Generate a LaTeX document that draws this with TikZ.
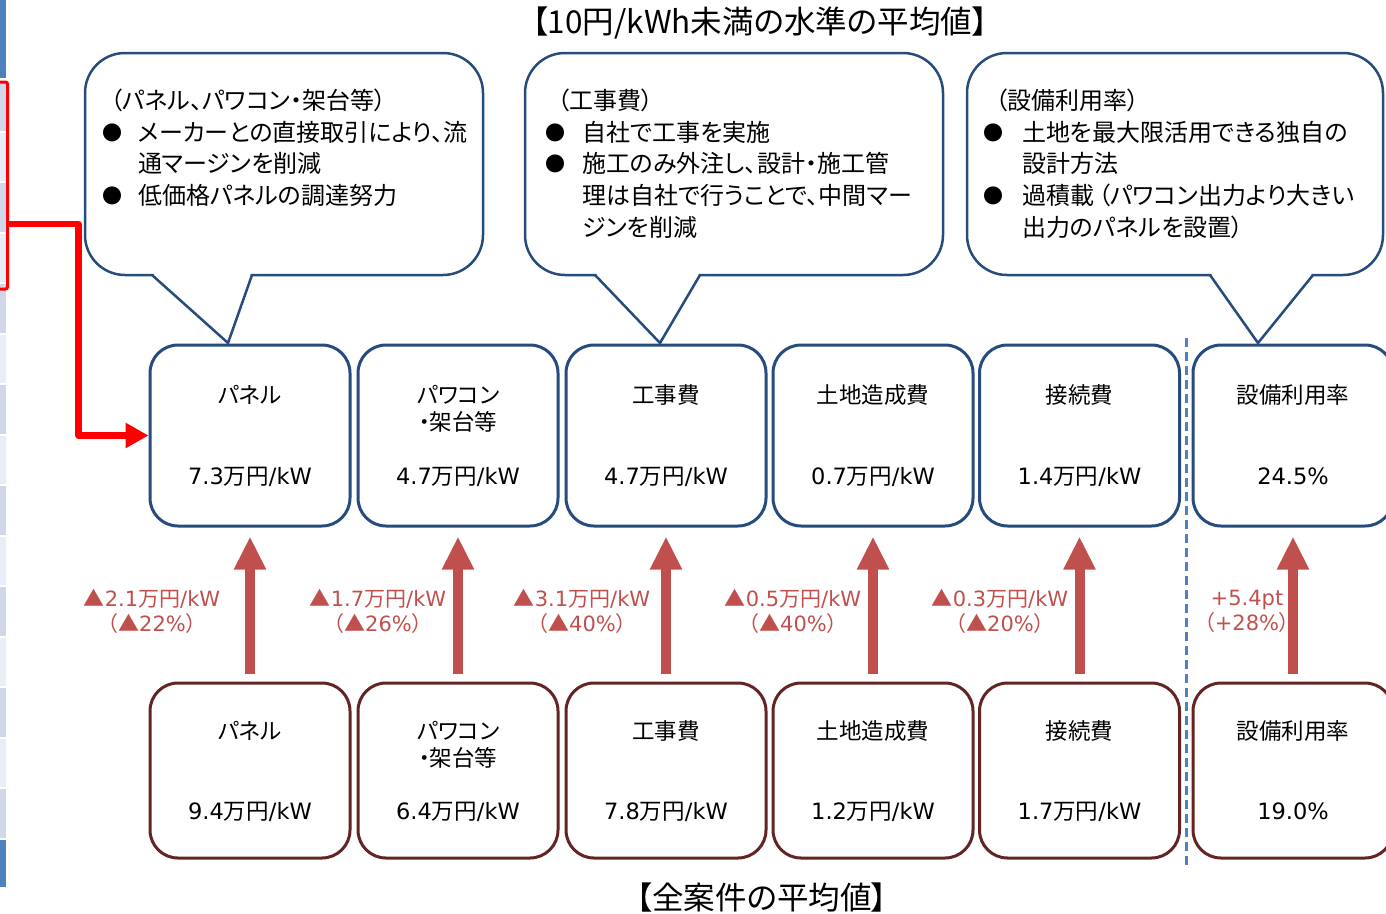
\documentclass[tikz,border=0pt]{standalone}
\usepackage{fontspec}
\setmainfont{Noto Sans CJK JP}[RawFeature=+palt]
\newfontfamily\dv{DejaVu Sans}
\usetikzlibrary{arrows.meta,calc}
\definecolor{bxblue}{HTML}{254C7D}
\definecolor{bxred}{HTML}{632523}
\definecolor{arr}{HTML}{C0504D}
\definecolor{stripdk}{HTML}{4F81BD}
\definecolor{cellA}{HTML}{CFD7E8}
\definecolor{cellB}{HTML}{E9EDF5}
\newcommand\lt[1]{{\dv #1}}
\tikzset{
  topbox/.style={draw=bxblue, line width=3pt, rounded corners=28pt, minimum width=200pt, minimum height=181pt, fill=white, inner sep=0pt},
  botbox/.style={draw=bxred, line width=3pt, rounded corners=28pt, minimum width=200pt, minimum height=175pt, fill=white, inner sep=0pt},
  btxt/.style={font=\fontsize{22.5}{27}\selectfont, inner sep=0pt, anchor=base},
  chg/.style={font=\fontsize{21}{25}\selectfont, text=arr, inner sep=0pt, align=center},
  ctxt/.style={font=\fontsize{24}{32}\selectfont, inner sep=0pt, anchor=base west},
  bul/.style={font=\fontsize{20}{24}\selectfont, inner sep=0pt, anchor=base},
  cbody/.style={draw=bxblue, line width=2.5pt, rounded corners=40pt, fill=white, minimum height=222pt, inner sep=0pt},
  cline/.style={draw=bxblue, line width=2.5pt, line join=miter},
  bigarrow/.style={draw=arr, line width=10pt, -{Triangle[width=30pt,length=33pt]}},
  redarrow/.style={draw=red, line width=6.5pt, line join=round, -{Triangle[width=24pt,length=23pt]}},
  dashline/.style={draw=stripdk, line width=3pt, dash pattern=on 9pt off 5pt},
  ttl/.style={font=\fontsize{31.5}{36}\selectfont, inner sep=0pt, anchor=base}
}
\begin{document}
\begin{tikzpicture}[x=1pt,y=-1pt]
\useasboundingbox (0,0) rectangle (1386,913);
% left strip (cropped table)
\fill[stripdk] (0,0) rectangle (6,78);
\foreach \i in {0,2,...,14} \fill[cellA] (0,{82+50.5*\i}) rectangle (6,{130.5+50.5*\i});
\foreach \i in {1,3,...,13} \fill[cellB] (0,{82+50.5*\i}) rectangle (6,{130.5+50.5*\i});
\fill[stripdk] (0,840) rectangle (6,887);
\node[draw=red, line width=3pt, rounded corners=2pt, minimum width=14pt, minimum height=207pt, inner sep=0pt] (sel) at (0.5,185.5) {};

% titles
\node[ttl] (ttop) at (760,33.5) {【10円/kWh未満の水準の平均値】};
\node[ttl] (tbot) at (762,909.5) {【全案件の平均値】};

% callouts
\node[cbody, minimum width=398pt] (cb1) at (284,164) {};
\node[cbody, minimum width=418pt] (cb2) at (734,164) {};
\node[cbody, minimum width=416pt] (cb3) at (1175,164) {};
\foreach \a/\b/\tx in {152/252/228, 595/700/660, 1210/1313/1258}{
  \fill[white] ({\a+1.5},271) -- ({\b-1.5},271) -- ({\b-1.5},277) -- (\tx,343) -- ({\a+1.5},277) -- cycle;
  \draw[cline] (\a,275) -- (\tx,343) -- (\b,275);
}
% callout 1 text
\node[ctxt] (c1h) at (110,109) {（パネル、パワコン・架台等）};
\node[bul] (c1b1) at (112,140) {●};
\node[ctxt] (c1a) at (138,141) {メーカーとの直接取引により、流};
\node[ctxt] (c1b) at (138,172) {通マージンを削減};
\node[bul] (c1b2) at (112,203) {●};
\node[ctxt] (c1c) at (138,204) {低価格パネルの調達努力};
% callout 2 text
\node[ctxt] (c2h) at (557,109) {（工事費）};
\node[bul] (c2b1) at (555,140) {●};
\node[ctxt] (c2a) at (582,141) {自社で工事を実施};
\node[bul] (c2b2) at (555,171) {●};
\node[ctxt] (c2b) at (582,172) {施工のみ外注し、設計・施工管};
\node[ctxt] (c2c) at (582,204) {理は自社で行うことで、中間マー};
\node[ctxt] (c2d) at (582,236) {ジンを削減};
% callout 3 text
\node[ctxt] (c3h) at (995,109) {（設備利用率）};
\node[bul] (c3b1) at (993,140) {●};
\node[ctxt] (c3a) at (1022,141) {土地を最大限活用できる独自の};
\node[ctxt] (c3b) at (1022,172) {設計方法};
\node[bul] (c3b2) at (993,203) {●};
\node[ctxt] (c3c) at (1022,204) {過積載\,（パワコン出力より大きい};
\node[ctxt] (c3d) at (1022,236) {出力のパネルを設置）};

% top boxes
\node[topbox] (t1) at (250,435.5) {};
\node[topbox] (t2) at (458,435.5) {};
\node[topbox] (t3) at (666,435.5) {};
\node[topbox] (t4) at (873,435.5) {};
\node[topbox] (t5) at (1079.5,435.5) {};
\node[topbox] (t6) at (1293,435.5) {};
% bottom boxes
\node[botbox] (b1) at (250,770.5) {};
\node[botbox] (b2) at (458,770.5) {};
\node[botbox] (b3) at (666,770.5) {};
\node[botbox] (b4) at (873,770.5) {};
\node[botbox] (b5) at (1079.5,770.5) {};
\node[botbox] (b6) at (1293,770.5) {};

% top box texts
\node[btxt] (t1l) at ($(t1.center)+(0,-32.5)$) {パネル};
\node[btxt] (t1v) at ($(t1.center)+(0,48.5)$) {\lt{7.3}万円\lt{/kW}};
\node[btxt] (t2l) at ($(t2.center)+(0,-32.5)$) {パワコン};
\node[btxt] (t2m) at ($(t2.center)+(0,-5.5)$) {・架台等};
\node[btxt] (t2v) at ($(t2.center)+(0,48.5)$) {\lt{4.7}万円\lt{/kW}};
\node[btxt] (t3l) at ($(t3.center)+(0,-32.5)$) {工事費};
\node[btxt] (t3v) at ($(t3.center)+(0,48.5)$) {\lt{4.7}万円\lt{/kW}};
\node[btxt] (t4l) at ($(t4.center)+(0,-32.5)$) {土地造成費};
\node[btxt] (t4v) at ($(t4.center)+(0,48.5)$) {\lt{0.7}万円\lt{/kW}};
\node[btxt] (t5l) at ($(t5.center)+(0,-32.5)$) {接続費};
\node[btxt] (t5v) at ($(t5.center)+(0,48.5)$) {\lt{1.4}万円\lt{/kW}};
\node[btxt] (t6l) at ($(t6.center)+(0,-32.5)$) {設備利用率};
\node[btxt] (t6v) at ($(t6.center)+(0,48.5)$) {\lt{24.5\%}};
% bottom box texts
\node[btxt] (b1l) at ($(b1.center)+(0,-31.5)$) {パネル};
\node[btxt] (b1v) at ($(b1.center)+(0,48.5)$) {\lt{9.4}万円\lt{/kW}};
\node[btxt] (b2l) at ($(b2.center)+(0,-31.5)$) {パワコン};
\node[btxt] (b2m) at ($(b2.center)+(0,-4.5)$) {・架台等};
\node[btxt] (b2v) at ($(b2.center)+(0,48.5)$) {\lt{6.4}万円\lt{/kW}};
\node[btxt] (b3l) at ($(b3.center)+(0,-31.5)$) {工事費};
\node[btxt] (b3v) at ($(b3.center)+(0,48.5)$) {\lt{7.8}万円\lt{/kW}};
\node[btxt] (b4l) at ($(b4.center)+(0,-31.5)$) {土地造成費};
\node[btxt] (b4v) at ($(b4.center)+(0,48.5)$) {\lt{1.2}万円\lt{/kW}};
\node[btxt] (b5l) at ($(b5.center)+(0,-31.5)$) {接続費};
\node[btxt] (b5v) at ($(b5.center)+(0,48.5)$) {\lt{1.7}万円\lt{/kW}};
\node[btxt] (b6l) at ($(b6.center)+(0,-31.5)$) {設備利用率};
\node[btxt] (b6v) at ($(b6.center)+(0,48.5)$) {\lt{19.0\%}};

% improvement arrows
\foreach \n in {1,...,6}
  \draw[bigarrow] ($(b\n.north)+(0,-8)$) -- ($(t\n.south)+(0,9)$);

% change labels
\node[chg] (d1) at (152,611.5) {▲\lt{2.1}万円\lt{/kW}\\（▲\lt{22\%}）};
\node[chg] (d2) at (378,611.5) {▲\lt{1.7}万円\lt{/kW}\\（▲\lt{26\%}）};
\node[chg] (d3) at (582,611.5) {▲\lt{3.1}万円\lt{/kW}\\（▲\lt{40\%}）};
\node[chg] (d4) at (793,611.5) {▲\lt{0.5}万円\lt{/kW}\\（▲\lt{40\%}）};
\node[chg] (d5) at (1000,611.5) {▲\lt{0.3}万円\lt{/kW}\\（▲\lt{20\%}）};
\node[chg] (d6) at (1247,611.5) {\lt{+5.4pt}\\（\lt{+28\%}）};

% separator
\coordinate (sepA) at (1186,338);
\coordinate (sepB) at (1186,868);
\draw[dashline] (sepA) -- (sepB);

% red connector from the selected rows
\coordinate (rj) at (78.5,224);
\draw[redarrow] (sel.east |- rj) -- (rj) |- (t1.west);
\end{tikzpicture}
\end{document}
